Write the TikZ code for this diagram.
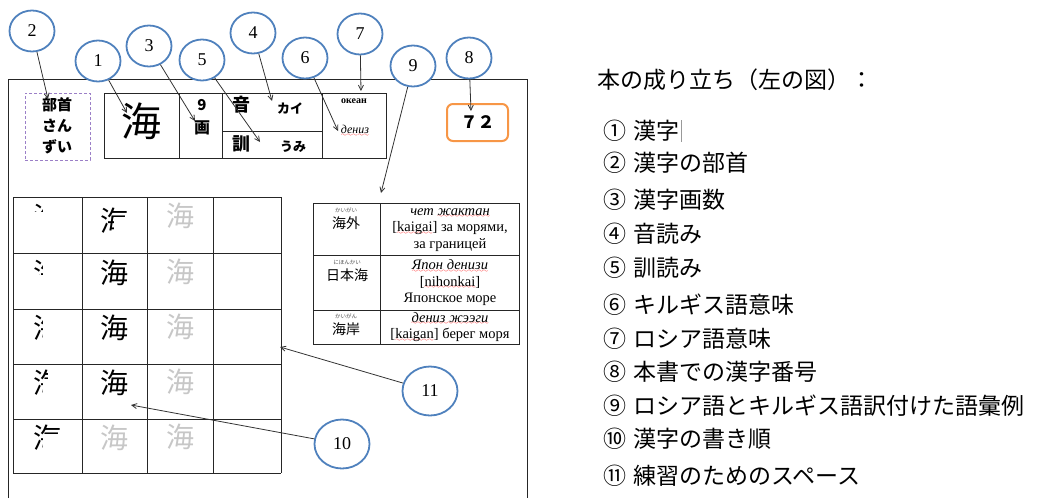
\documentclass[tikz,border=0pt]{standalone}
\usepackage{fontspec}
\setmainfont{Liberation Serif}
\newfontfamily\jp{Noto Sans CJK JP}
\usetikzlibrary{shapes.geometric,arrows.meta}
\definecolor{cblue}{HTML}{4F81BD}
\definecolor{corange}{HTML}{F79646}
\definecolor{cpurple}{HTML}{9B7FC7}
\font\wavefont=lasy6
\newcommand\rw[1]{\setbox0\hbox{#1}\rlap{\textcolor{red}{\lower2.5pt\hbox to\wd0{\xleaders\hbox{\wavefont\char58}\hfil}}}#1}
\begin{document}
\begin{tikzpicture}[x=1pt,y=-1pt,
  num/.style={ellipse, draw=cblue, line width=1.8pt, fill=white, minimum width=45pt, minimum height=41pt, inner sep=0pt, font=\fontsize{18}{18}\selectfont},
  bignum/.style={num, minimum width=55pt, minimum height=49pt},
  arr/.style={-{Straight Barb[length=5pt,width=5pt]}, line width=0.8pt, black!80},
  tl/.style={line width=1pt, black!85},
  gk/.style={font=\jp\fontsize{28}{28}\selectfont, inner sep=0pt},
  gg/.style={gk, text=black!22},
  ruby/.style={font=\jp\fontsize{5.5}{6}\selectfont, text=black!70, inner sep=0pt},
  word/.style={font=\jp\fontsize{14}{14}\selectfont, inner sep=0pt},
  tr/.style={font=\fontsize{14.5}{16.5}\selectfont, align=center, inner sep=0pt},
  lst/.style={font=\jp\fontsize{23}{23}\selectfont, anchor=west, inner sep=0pt}
]
\useasboundingbox (0,0) rectangle (1040,498);
% page outline
\draw[tl] (8,498) -- (8,79) -- (527,79) -- (527,498);

% radical box
\node[draw=cpurple, dash pattern=on 3pt off 2pt, line width=0.9pt, minimum width=65pt, minimum height=67pt, inner sep=0pt] (bushubox) at (57.5,126.5) {};
\node[font=\jp\bfseries\fontsize{15}{21}\selectfont, align=center, inner sep=0pt] (bushu) at (57,126) {部首\\さん\\ずい};

% kanji table
\draw[tl] (104,93) rectangle (386,158);
\draw[tl] (179,93) -- (179,158) (222,93) -- (222,158) (322,93) -- (322,158) (222,131) -- (322,131);
\node[font=\jp\fontsize{40}{40}\selectfont, inner sep=0pt] (kanji) at (141,121) {海};
\node[font=\jp\bfseries\fontsize{15}{15}\selectfont, inner sep=0pt] (strokes) at (202,105) {9};
\node[font=\jp\bfseries\fontsize{16}{16}\selectfont, inner sep=0pt] (kaku) at (202,128) {画};
\node[font=\jp\bfseries\fontsize{18}{18}\selectfont, inner sep=0pt] (on) at (241,105) {音};
\node[font=\jp\bfseries\fontsize{13}{13}\selectfont, inner sep=0pt] (onyomi) at (290,108) {カイ};
\node[font=\jp\bfseries\fontsize{18}{18}\selectfont, inner sep=0pt] (kun) at (241,144) {訓};
\node[font=\jp\bfseries\fontsize{13}{13}\selectfont, inner sep=0pt] (kunyomi) at (293,147) {うみ};
\node[font=\bfseries\fontsize{10}{10}\selectfont, inner sep=0pt] (rus) at (354,101) {океан};
\node[font=\itshape\fontsize{12}{12}\selectfont, inner sep=0pt] (kyr) at (355,131) {\rw{дениз}};

% number box
\node[draw=corange, line width=2pt, rounded corners=6pt, minimum width=61pt, minimum height=37pt, font=\jp\bfseries\fontsize{17}{17}\selectfont] (numbox) at (477.5,122.5) {７２};

% example table
\draw[tl] (313,203) rectangle (519,344);
\draw[tl] (380,203) -- (380,344) (313,255) -- (519,255) (313,310) -- (519,310);
\node[ruby] (r1) at (346,210) {かいがい};
\node[word] (w1) at (346,223) {海外};
\node[ruby] (r2) at (347,262) {にほんかい};
\node[word] (w2) at (347,275) {日本海};
\node[ruby] (r3) at (346,316) {かいがん};
\node[word] (w3) at (346,329) {海岸};
\node[tr] (m1) at (450,230) {\textit{чет \rw{жактан}}\\{}[\rw{kaigai}] за морями,\\за границей};
\node[tr] (m2) at (450,283) {\textit{\rw{Япон денизи}}\\{}[\rw{nihonkai}]\\Японское море};
\node[tr] (m3) at (450,327) {\textit{\rw{дениз жээги}}\\{}[\rw{kaigan}] берег моря};

% stroke order grid
\foreach \x in {13,82,147,213,281} \draw[tl] (\x,197) -- (\x,473);
\foreach \y in {197,253,309,364,419,473} \draw[tl] (13,\y) -- (281,\y);
% column 1: strokes 1-5
\begin{scope}
  \clip (30,200) rectangle (42.5,211);
  \node[gk] (s1) at (47,217) {海};
\end{scope}
\begin{scope}
  \clip (30,256) rectangle (42.5,274);
  \node[gk] (s2) at (47,273) {海};
\end{scope}
\begin{scope}
  \clip (30,312) rectangle (42.5,346);
  \node[gk] (s3) at (47,328) {海};
\end{scope}
\begin{scope}
  \clip (30,367) rectangle (42.5,401) (42.5,367) rectangle (47.5,378);
  \node[gk] (s4) at (47,383) {海};
\end{scope}
\begin{scope}
  \clip (30,422) rectangle (42.5,456) (42.5,422) rectangle (64,433);
  \node[gk] (s5) at (47,438) {海};
\end{scope}
% column 2
\begin{scope}
  \clip (96,200) rectangle (113,240) (113,200) rectangle (132,216);
  \node[gk] (s6) at (114,221) {海};
\end{scope}
\node[gk] (s7) at (114,273) {海};
\node[gk] (s8) at (114,328) {海};
\node[gk] (s9) at (114,383) {海};
\node[gg] (g25) at (114,438) {海};
% column 3
\node[gg] (g31) at (180,216) {海};
\node[gg] (g32) at (180,272) {海};
\node[gg] (g33) at (180,327) {海};
\node[gg] (g34) at (180,382) {海};
\node[gg] (g35) at (180,437) {海};

% arrow targets
\coordinate (t1) at (127,113);
\coordinate (t2) at (48,99);
\coordinate (t3) at (195,121);
\coordinate (t4) at (272,101);
\coordinate (t5) at (260,142);
\coordinate (t6) at (338,131);
\coordinate (t7) at (361,91);
\coordinate (t8) at (471,111);
\coordinate (t9) at (381,193);
\coordinate (t10) at (131,405);
\coordinate (t11) at (280,347);

% callout circles
\node[num] (c2) at (32,31) {2};
\node[num] (c1) at (98,61) {1};
\node[num] (c3) at (149,46) {3};
\node[num] (c5) at (202,60) {5};
\node[num] (c4) at (253,33) {4};
\node[num] (c6) at (305,58) {6};
\node[num] (c7) at (360,34) {7};
\node[num] (c9) at (413,66) {9};
\node[num] (c8) at (469,58) {8};
\node[bignum] (c11) at (430,391) {11};
\node[bignum] (c10) at (342,444) {10};

\draw[arr] (c1) -- (t1);
\draw[arr] (c2) -- (t2);
\draw[arr] (c3) -- (t3);
\draw[arr] (c4) -- (t4);
\draw[arr] (c5) -- (t5);
\draw[arr] (c6) -- (t6);
\draw[arr] (c7) -- (t7);
\draw[arr] (c8) -- (t8);
\draw[arr] (c9) -- (t9);
\draw[arr] (c10) -- (t10);
\draw[arr] (c11) -- (t11);

% legend
\node[lst] (title) at (597,80) {本の成り立ち（左の図）：};
\node[lst] (i1) at (603,131) {①\hspace{0.3em}漢字};
\node[lst] (i2) at (603,163) {②\hspace{0.3em}漢字の部首};
\node[lst] (i3) at (603,200) {③\hspace{0.3em}漢字画数};
\node[lst] (i4) at (603,234) {④\hspace{0.3em}音読み};
\node[lst] (i5) at (603,268) {⑤\hspace{0.3em}訓読み};
\node[lst] (i6) at (603,305) {⑥\hspace{0.3em}キルギス語意味};
\node[lst] (i7) at (603,339) {⑦\hspace{0.3em}ロシア語意味};
\node[lst] (i8) at (603,372) {⑧\hspace{0.3em}本書での漢字番号};
\node[lst] (i9) at (603,406) {⑨\hspace{0.3em}ロシア語とキルギス語訳付けた語彙例};
\node[lst] (i10) at (603,439) {⑩\hspace{0.3em}漢字の書き順};
\node[lst] (i11) at (603,476) {⑪\hspace{0.3em}練習のためのスペース};
\draw[black!40, line width=0.7pt] ([xshift=2pt,yshift=11pt]i1.east) -- ([xshift=2pt,yshift=-11pt]i1.east);
\end{tikzpicture}
\end{document}
